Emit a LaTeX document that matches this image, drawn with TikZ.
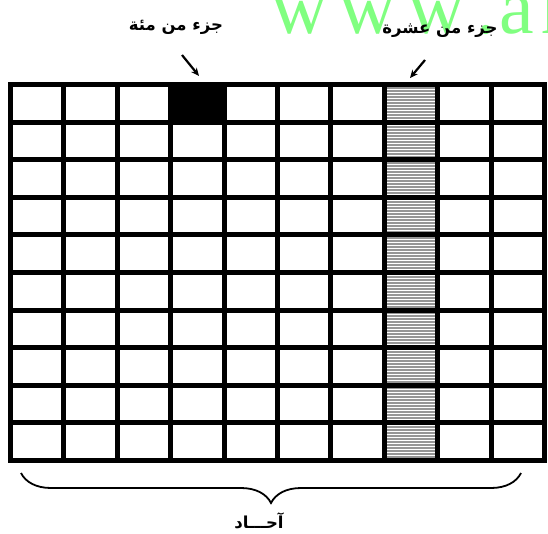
\documentclass[tikz,border=0pt]{standalone}
\usepackage{fontspec}
\usetikzlibrary{arrows.meta,decorations.pathreplacing}
\TeXXeTstate=1
\newfontfamily\arabicfont[Script=Arabic]{DejaVu Sans}
\newfontfamily\wmfont{Liberation Serif}
\definecolor{wmgreen}{RGB}{128,255,128}
\definecolor{hatchgray}{RGB}{150,150,150}

\begin{document}
\begin{tikzpicture}[x=1pt,y=-1pt,line width=1pt,>={Stealth[length=8pt,width=7pt]},
  gridline/.style={line width=5pt},
  label/.style={font=\arabicfont\bfseries\fontsize{16.5}{18}\selectfont,inner sep=0pt},
  wmark/.style={anchor=base west,inner sep=0pt,text=wmgreen,
    font=\wmfont\fontsize{78}{78}\selectfont},
  pointer/.style={->,line width=2.2pt}]
  \useasboundingbox (0,0) rectangle (548,533);
  % watermark
  \foreach \x/\c in {271/w,339/w,408/w,476/.,499/a,541/r}
    \node[wmark] (wm-\x) at (\x,33) {\c};
  % shaded column (tenths)
  \foreach \r in {0,...,9}
    \fill[hatchgray] (384.3,84.5+\r*37.6) rectangle ++(53.4,37.6);
  \foreach \y in {86.5,89.5,...,460}
    \draw[white,line width=0.9pt] (384.3,\y) -- (437.7,\y);
  % hundredth
  \fill (170.7,84.5) rectangle (224.1,122.1);
  % grid
  \foreach \i in {1,...,9}
    \draw[gridline] (10.5+\i*53.4,84.5) -- (10.5+\i*53.4,460.5);
  \foreach \j in {1,...,9}
    \draw[gridline] (10.5,84.5+\j*37.6) -- (544.5,84.5+\j*37.6);
  \draw[gridline,line join=miter] (10.5,84.5) rectangle (544.5,460.5);
  % labels
  \node[label] (hundredth) at (176,27) {\beginR جزء من مئة\endR};
  \node[label] (tenth) at (440,31) {\beginR جزء من عشرة\endR};
  \coordinate (hs) at (182,55);
  \coordinate (he) at (199,76);
  \coordinate (ts) at (425,60);
  \coordinate (te) at (410,78);
  \draw[pointer] (hs) -- (he);
  \draw[pointer] (ts) -- (te);
  % brace
  \draw[line width=1.8pt,decorate,decoration={brace,amplitude=30pt,mirror}]
    (21,473) -- (521,473);
  \node[label] (ones) at (259,521) {\beginR آحـــاد\endR};
\end{tikzpicture}
\end{document}
